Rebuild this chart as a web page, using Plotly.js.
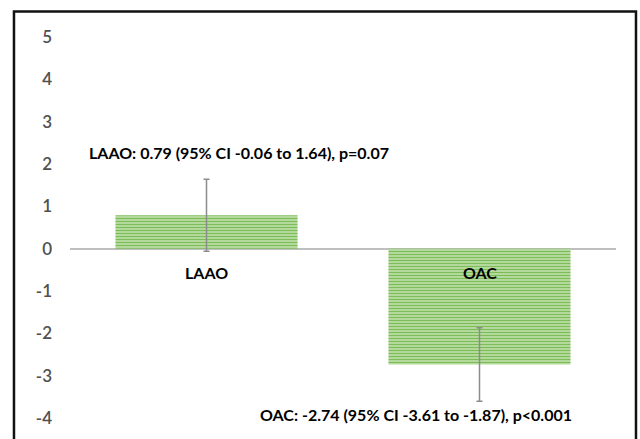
<!DOCTYPE html>
<html>
<head>
<meta charset="utf-8">
<script src="https://cdn.plot.ly/plotly-3.0.1.min.js"></script>
<style>html,body{margin:0;padding:0;background:#fff;}#chart{width:640px;height:439px;}</style>
</head>
<body>
<div id="chart"></div>
<script>
// Data
var categories = ['LAAO', 'OAC'];
var values = [0.79, -2.74];
var ciLow = [-0.06, -3.61];
var ciHigh = [1.64, -1.87];
var pValues = ['p=0.07', 'p<0.001'];
var yTicks = [-4, -3, -2, -1, 0, 1, 2, 3, 4, 5];
var yTickText = ['-4', '-3', '-2', '-1', '0', '1', '2', '3', '4', '5'];

var errPlus = values.map(function (v, i) { return ciHigh[i] - v; });
var errMinus = values.map(function (v, i) { return v - ciLow[i]; });
var labels = categories.map(function (c, i) {
  return c + ': ' + values[i].toFixed(2) + ' (95% CI ' + ciLow[i].toFixed(2) + ' to ' + ciHigh[i].toFixed(2) + '), ' + pValues[i].replace('<', '&lt;');
});

var FONT = 'Lato, "Open Sans", sans-serif';

var trace = {
  type: 'bar',
  x: categories,
  y: values,
  marker: {
    color: '#a9d18e',
    line: {width: 0},
    pattern: {shape: '-', fgcolor: '#7dbd58', bgcolor: '#c6e2b2', size: 3, solidity: 0.5}
  },
  error_y: {
    type: 'data', symmetric: false, array: errPlus, arrayminus: errMinus,
    color: '#8c8c8c', thickness: 1.5, width: 3
  },
  hoverinfo: 'none'
};

var annotations = [];
categories.forEach(function (c, i) {
  annotations.push({
    x: c, y: 0, xref: 'x', yref: 'y', text: '<b>' + c + '</b>', showarrow: false,
    yshift: -24, font: {family: FONT, size: 16, color: '#000'}
  });
});
annotations.push({
  x: 0.12, y: 2.27, xref: 'x', yref: 'y', text: '<b>' + labels[0] + '</b>', showarrow: false,
  font: {family: FONT, size: 16, color: '#000'}
});
annotations.push({
  x: 0.766, y: -3.92, xref: 'x', yref: 'y', text: '<b>' + labels[1] + '</b>', showarrow: false,
  font: {family: FONT, size: 16, color: '#000'}
});

var layout = {
  width: 640, height: 439,
  margin: {l: 70, r: 24, t: 16, b: 0, pad: 0},
  paper_bgcolor: '#fff', plot_bgcolor: '#fff',
  showlegend: false,
  bargap: 0.333,
  xaxis: {
    showticklabels: false, showgrid: false, zeroline: false, showline: false, ticks: '',
    range: [-0.5, 1.5]
  },
  yaxis: {
    range: [-4.5, 5.5], tickvals: yTicks, ticktext: yTickText, showgrid: false,
    zeroline: true, zerolinecolor: '#bfbfbf', zerolinewidth: 2,
    showline: false, ticks: '', ticklabelstandoff: 17,
    tickfont: {family: FONT, size: 17, color: '#505050', weight: 600}
  },
  annotations: annotations,
  shapes: [{
    type: 'rect', xref: 'paper', yref: 'paper',
    x0: -0.1026, x1: 1.0366, y0: -0.1, y1: 1.0106,
    line: {color: '#111', width: 2.5}, fillcolor: 'rgba(0,0,0,0)', layer: 'above'
  }]
};

Plotly.newPlot('chart', [trace], layout, {displayModeBar: false, staticPlot: true});
</script>
</body>
</html>
